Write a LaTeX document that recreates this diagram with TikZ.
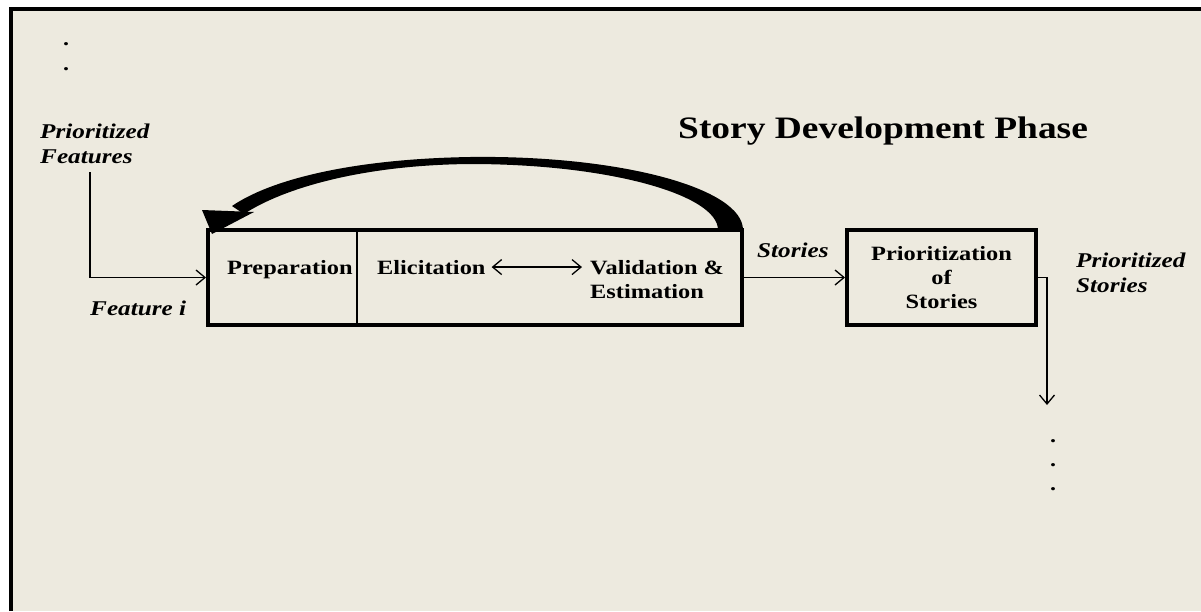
\documentclass[tikz,border=0pt]{standalone}
\usepackage{fontspec}
\setmainfont{Liberation Serif}[FakeStretch=1.2]
\usetikzlibrary{arrows.meta}
\definecolor{paper}{RGB}{237,234,223}
\begin{document}
\begin{tikzpicture}[x=1pt,y=-1pt,
  boxtxt/.style={font=\bfseries\fontsize{20.3}{24}\selectfont, inner sep=0pt, align=center},
  lbl/.style={font=\bfseries\itshape\fontsize{21}{25}\selectfont, inner sep=0pt, align=left, anchor=base west},
  stage/.style={draw, line width=4pt, inner sep=0pt},
  flow/.style={line width=1.3pt, -{Straight Barb[length=9pt,width=15pt,line width=1.3pt]}},
  dflow/.style={line width=1.3pt, {Straight Barb[length=9pt,width=15pt,line width=1.3pt]}-{Straight Barb[length=9pt,width=15pt,line width=1.3pt]}},
  dotmark/.style={font=\bfseries\fontsize{20}{20}\selectfont, inner sep=0pt}
]
\useasboundingbox (0,0) rectangle (1201,611);
% page and frame
\fill[white] (0,0) rectangle (1201,611);
\fill[paper] (11,9) rectangle (1201,611);
\draw[line width=4pt] (11,611) -- (11,9) -- (1201,9);

% title
\node[font=\bfseries\fontsize{31.2}{36}\selectfont, inner sep=0pt, anchor=base west] (title) at (678,138) {Story Development Phase};

% development stage box
\node[stage, minimum width=534pt, minimum height=95pt] (dev) at (475,277.5) {};
\coordinate (divx) at (357,0);
\draw[line width=1.6pt] (dev.north -| divx) -- (dev.south -| divx);
\node[boxtxt, anchor=base west] (prep) at (227,274) {Preparation};
\node[boxtxt, anchor=base west] (elic) at (377,274) {Elicitation};
\node[boxtxt, anchor=base west, align=left] (valid) at (590,298) {Validation \&\\Estimation};
\draw[dflow] ([xshift=6pt]elic.east) -- ([xshift=-8pt]elic.east -| valid.west);

% prioritization box
\node[stage, boxtxt, line width=4pt, minimum width=189pt, minimum height=95pt] (prio) at (941.5,277.5) {Prioritization\\of\\Stories};

% labels (base anchor sits on the last line)
\node[lbl] (pfeat) at (40,163) {Prioritized\\Features};
\node[lbl] (feati) at (90,315) {Feature i};
\node[lbl] (stories) at (757,257) {Stories};
\node[lbl] (pstor) at (1076,292) {Prioritized\\Stories};

% dots
\node[dotmark] (d1) at (66,44) {.};
\node[dotmark] (d2) at (66,69) {.};
\node[dotmark] (d3) at (1053,441) {.};
\node[dotmark] (d4) at (1053,465) {.};
\node[dotmark] (d5) at (1053,489) {.};

% connectors
\coordinate (featsrc) at (90,172);
\draw[flow] (featsrc) |- (dev.west);
\draw[flow] (dev.east) -- (prio.west);
\coordinate (outend) at (1047,405);
\draw[flow] (prio.east) -| (outend);

% feedback arc, tapering toward its head
\fill (743,230) .. controls (743,188) and (620,155) .. (470,157)
      .. controls (350,159) and (270,180) .. (232,206)
      -- (244,214) .. controls (282,189) and (360,165) .. (470,164)
      .. controls (610,164) and (718,195) .. (718,230) -- cycle;
\fill (202,210) -- (254,212) -- (212,234) -- cycle;
\end{tikzpicture}
\end{document}
